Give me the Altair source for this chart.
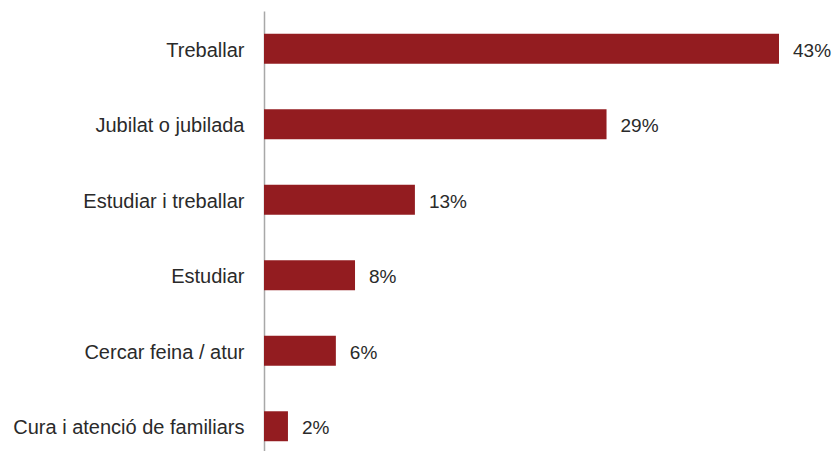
import altair as alt
import pandas as pd

categories = ["Treballar", "Jubilat o jubilada", "Estudiar i treballar", "Estudiar",
              "Cercar feina / atur", "Cura i atenció de familiars"]
values = [43.0, 28.6, 12.6, 7.6, 6.0, 2.0]
labels = ["43%", "29%", "13%", "8%", "6%", "2%"]

df = pd.DataFrame({"cat": categories, "val": values, "lab": labels})

FONT = "Liberation Sans"
TXT = "#2a2a2a"

y = alt.Y("cat:N", sort=categories, title=None,
          scale=alt.Scale(paddingInner=0.603, paddingOuter=0.2155, align=0.7),
          axis=alt.Axis(ticks=False, labelPadding=20, labelFontSize=20, labelFont=FONT,
                        labelColor=TXT, domainColor="#a8a8a8", domainWidth=1.5,
                        labelLimit=400, labelOffset=2))
x = alt.X("val:Q", title=None, scale=alt.Scale(domain=[0, 43], nice=False, zero=True),
          axis=None)

bars = alt.Chart(df).mark_bar(color="#931c20").encode(x=x, y=y)
text = alt.Chart(df).mark_text(align="left", baseline="middle", dx=14, dy=2, fontSize=19,
                               font=FONT, color=TXT).encode(
    x=x, y=alt.Y("cat:N", sort=categories), text="lab:N")

chart = (bars + text).properties(
    width=515, height=440,
    padding={"left": 256, "top": 3, "right": 53, "bottom": 0},
    autosize=alt.AutoSizeParams(type="none"),
).configure_view(stroke=None).configure_axis(grid=False)

chart.save("out.html", embed_options={"renderer": "svg", "actions": False})
